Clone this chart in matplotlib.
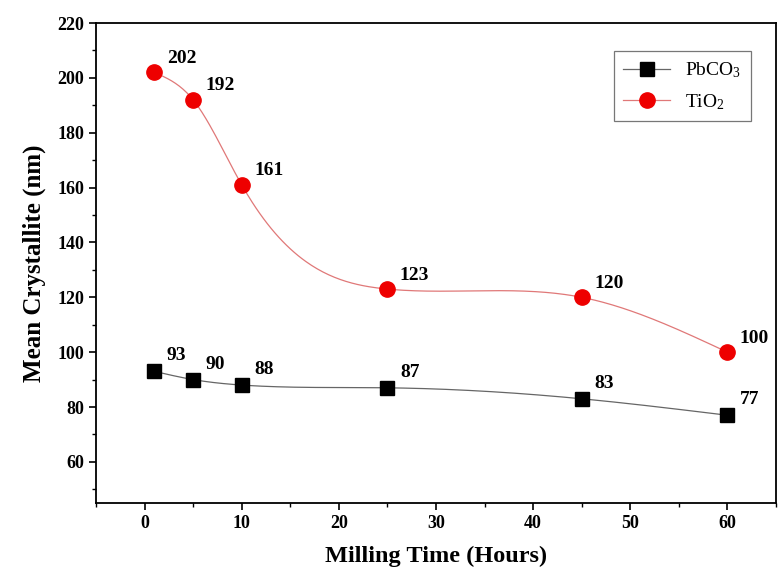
import numpy as np
import matplotlib
matplotlib.use("Agg")
import matplotlib.pyplot as plt

plt.rcParams["font.family"] = ["Liberation Serif", "DejaVu Serif"]
plt.rcParams["mathtext.fontset"] = "custom"
plt.rcParams["mathtext.rm"] = "Liberation Serif"
plt.rcParams["mathtext.it"] = "Liberation Serif:italic"
plt.rcParams["mathtext.bf"] = "Liberation Serif:bold"

hours = [1, 5, 10, 25, 45, 60]
pbco3 = [93, 90, 88, 87, 83, 77]
tio2 = [202, 192, 161, 123, 120, 100]


def natural_spline(x, y, n=300):
    x = np.asarray(x, float)
    y = np.asarray(y, float)
    k = len(x)
    h = np.diff(x)
    A = np.zeros((k, k))
    b = np.zeros(k)
    A[0, 0] = A[-1, -1] = 1
    for i in range(1, k - 1):
        A[i, i - 1] = h[i - 1]
        A[i, i] = 2 * (h[i - 1] + h[i])
        A[i, i + 1] = h[i]
        b[i] = 3 * ((y[i + 1] - y[i]) / h[i] - (y[i] - y[i - 1]) / h[i - 1])
    c = np.linalg.solve(A, b)
    xs = np.linspace(x[0], x[-1], n)
    idx = np.clip(np.searchsorted(x, xs) - 1, 0, k - 2)
    dx = xs - x[idx]
    bb = (y[1:] - y[:-1]) / h - h * (2 * c[:-1] + c[1:]) / 3
    dd = (c[1:] - c[:-1]) / (3 * h)
    ys = y[idx] + bb[idx] * dx + c[idx] * dx ** 2 + dd[idx] * dx ** 3
    return xs, ys


fig = plt.figure(figsize=(7.79, 5.75), dpi=100)
ax = fig.add_axes([0.1232, 0.1252, 0.8729, 0.8348])

xs, ys = natural_spline(hours, pbco3)
ax.plot(xs, ys, color="#666666", lw=0.9, zorder=2)
ax.plot(hours, pbco3, ls="none", marker="s", ms=10, color="black", zorder=3)
ax.plot([], [], color="#666666", lw=0.9, marker="s", ms=10, mfc="black",
        mec="black", label=r"PbCO$_3$")

xs, ys = natural_spline(hours, tio2)
ax.plot(xs, ys, color="#e07878", lw=0.9, zorder=2)
ax.plot(hours, tio2, ls="none", marker="o", ms=11, color="#ee0000", zorder=3)
ax.plot([], [], color="#e07878", lw=0.9, marker="o", ms=11, mfc="#ee0000",
        mec="#ee0000", label=r"TiO$_2$")

for x, y in zip(hours, tio2):
    ax.annotate(str(y), (x, y), xytext=(9, 4), textcoords="offset points",
                fontsize=14, fontweight="bold", ha="left", va="bottom",
                annotation_clip=False)
for x, y in zip(hours, pbco3):
    ax.annotate(str(y), (x, y), xytext=(9, 5), textcoords="offset points",
                fontsize=14, fontweight="bold", ha="left", va="bottom",
                annotation_clip=False)

ax.set_xlim(-5, 65)
ax.set_ylim(45, 220)
ax.set_xticks(range(0, 61, 10))
ax.set_xticks(range(-5, 66, 5), minor=True)
ax.set_yticks(range(60, 221, 20))
ax.set_yticks(range(50, 221, 10), minor=True)
ax.tick_params(which="major", length=5, width=1.2, labelsize=13, direction="out")
ax.tick_params(which="minor", length=3, width=1.0, direction="out")
for lbl in ax.get_xticklabels() + ax.get_yticklabels():
    lbl.set_fontweight("bold")
for s in ax.spines.values():
    s.set_linewidth(1.3)

ax.set_xlabel("Milling Time (Hours)", fontsize=17.5, fontweight="bold", labelpad=10)
ax.set_ylabel("Mean Crystallite (nm)", fontsize=18, fontweight="bold", labelpad=8)

leg = ax.legend(loc="upper right", bbox_to_anchor=(0.978, 0.962), fontsize=14,
                frameon=True, fancybox=False, edgecolor="#555555",
                handlelength=2.4, borderpad=0.5, labelspacing=0.6)
leg.get_frame().set_linewidth(0.9)

fig.savefig("out.png", dpi=100)
